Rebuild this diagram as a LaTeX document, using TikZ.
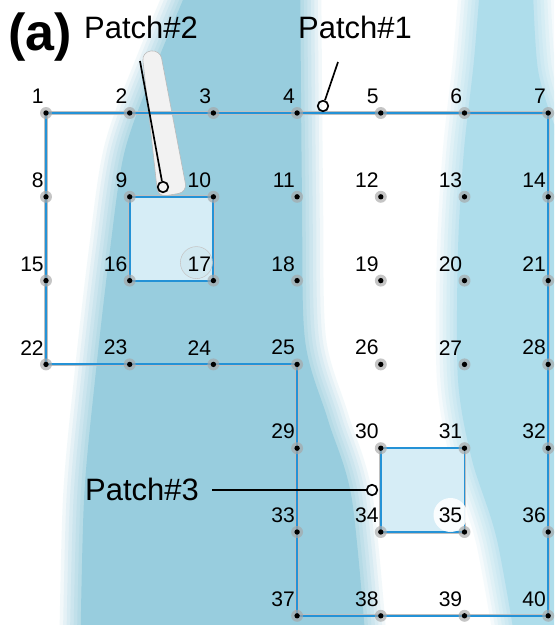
\documentclass[tikz,border=0pt]{standalone}
\usepackage{fontspec}
\setmainfont{Liberation Sans}
\usetikzlibrary{calc}
\definecolor{bandA}{RGB}{152,205,222}
\definecolor{bandB}{RGB}{174,221,235}
\definecolor{rimblue}{RGB}{36,146,214}
\definecolor{patchfill}{RGB}{214,237,246}

\begin{document}
\begin{tikzpicture}[
        x=0.025cm, y=-0.025cm,
        soft/.style={fill=#1,
            preaction={draw=#1, draw opacity=.12, line width=30pt},
            preaction={draw=#1, draw opacity=.14, line width=25pt},
            preaction={draw=#1, draw opacity=.16, line width=20pt},
            preaction={draw=#1, draw opacity=.18, line width=15pt},
            preaction={draw=#1, draw opacity=.2, line width=10pt},
            preaction={draw=#1, draw opacity=.25, line width=5pt}},
        rim/.style={draw=rimblue, line width=1.4pt, preaction={draw=gray!50, line width=2.3pt}},
        patch/.style={rim, fill=patchfill},
        gridpt/.style={circle, inner sep=0pt, minimum size=8.5pt, fill=gray!70, fill opacity=.65,
            path picture={\fill[black, fill opacity=1] (path picture bounding box.center) circle (1.9pt);}},
        numlab/.style={anchor=south east, inner sep=0pt, font=\fontsize{15}{15}\selectfont},
        tag/.style={inner sep=0pt, font=\fontsize{22}{22}\selectfont},
        ring/.style={circle, draw=black, line width=1.2pt, inner sep=0pt, minimum size=7.5pt},
        pointer/.style={draw=black, line width=1.2pt}
    ]
        \useasboundingbox (0,0) rectangle (554,625);
        \clip (0,0) rectangle (554,625);
        \fill[white] (0,0) rectangle (554,625);

        % stripes in the background
        \path[soft=bandA] plot[smooth] coordinates {(200,-40) (158,60) (125,150) (110,250) (95,380) (84,500) (80,670)}
            -- plot[smooth] coordinates {(368,670) (352,500) (328,420) (305,340) (302,200) (300,-40)} -- cycle;
        \path[soft=bandB] plot[smooth] coordinates {(482,-40) (474,60) (464,150) (458,250) (458,380) (472,460) (497,540) (520,670)}
            -- (620,670) -- (620,160) -- plot[smooth] coordinates {(560,140) (538,70) (532,-40)} -- cycle;

        % grid
        \foreach \r in {0,...,3}
            \foreach \c in {0,...,6} {
                \pgfmathtruncatemacro{\n}{7*\r+\c+1}
                \coordinate (c\n) at ({46+83.7*\c},{113+83.8*\r});
            }
        \foreach \r in {4,5,6}
            \foreach \c in {3,...,6} {
                \pgfmathtruncatemacro{\n}{29+4*(\r-4)+\c-3}
                \coordinate (c\n) at ({46+83.7*\c},{113+83.8*\r});
            }

        % halo behind the pointer of patch 2
        \filldraw[fill=gray!10, draw=gray!55, line width=.4pt, rounded corners=6pt]
            (142,52) -- (160,50) -- (187,192) -- (158,197) -- cycle;

        % domain and patches
        \draw[rim] (c1) -- (c7) -- (c40) -- (c37) -- (c25) -- (c22) -- cycle;
        \draw[patch] (c9) -- (c10) -- (c17) -- (c16) -- cycle;
        \draw[patch] (c30) -- (c31) -- (c35) -- (c34) -- cycle;

        \filldraw[fill=bandA!45, draw=gray!45, line width=.4pt] ($(c17)+(-17,-18)$) circle (16);
        \fill[white, opacity=.9] ($(c35)+(-14,-17)$) circle (17);

        \foreach \n in {1,...,40} {
            \node[gridpt] (p\n) at (c\n) {};
            \node[numlab] (l\n) at ($(c\n)+(-2,-9)$) {\n};
        }

        % labels
        \node[font=\bfseries\fontsize{37}{37}\selectfont, inner sep=0pt] (panel) at (40,37) {(a)};
        \node[tag] (tag2) at (141,27) {Patch\#2};
        \node[tag] (tag1) at (355,27) {Patch\#1};
        \node[tag] (tag3) at (142,489) {Patch\#3};

        % pointers
        \coordinate (end2) at (140,61);
        \node[ring] (ring2) at (163,187) {};
        \draw[pointer] (end2) -- (ring2);
        \coordinate (end1) at (338,62);
        \node[ring] (ring1) at (323,106) {};
        \draw[pointer] (end1) -- (ring1);
        \coordinate (end3) at (212,490);
        \node[ring] (ring3) at (372,490) {};
        \draw[pointer] (end3) -- (ring3);

    \end{tikzpicture}
\end{document}
